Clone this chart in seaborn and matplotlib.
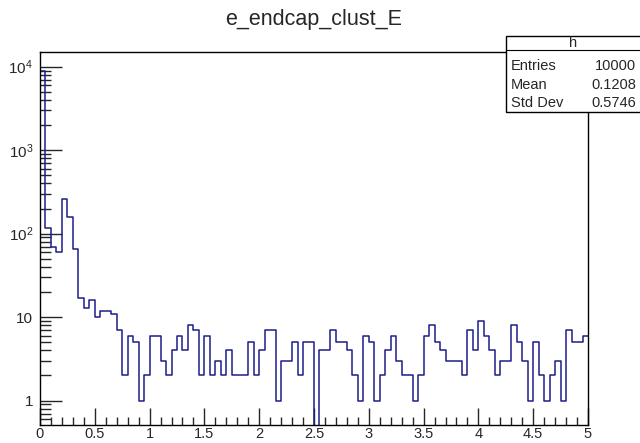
import numpy as np
import pandas as pd
import matplotlib
matplotlib.use('Agg')
import matplotlib.pyplot as plt
import matplotlib.ticker as mticker
from matplotlib.patches import Rectangle
import seaborn as sns

TITLE = 'e_endcap_clust_E'
HIST_NAME = 'h'
X_MIN = 0.0
X_MAX = 5.0
N_BINS = 100

# counts per bin (bin width 0.05)
counts = [
    8845, 117, 69, 60, 261, 157, 65, 17, 13, 16,
    10, 12, 12, 11, 7, 2, 6, 5, 1, 2,
    6, 6, 3, 2, 4, 6, 4, 8, 7, 2,
    6, 2, 3, 2, 4, 2, 2, 2, 5, 2,
    4, 7, 7, 1, 3, 3, 5, 2, 5, 5,
    0, 4, 4, 7, 5, 5, 4, 2, 1, 6,
    5, 1, 2, 4, 6, 3, 2, 2, 1, 2,
    6, 8, 5, 4, 3, 3, 3, 2, 7, 4,
    9, 6, 4, 2, 3, 3, 8, 5, 3, 1,
    5, 2, 1, 2, 3, 1, 7, 5, 5, 6,
]
stat_names = ['Entries', 'Mean', 'Std Dev']
stat_values = ['10000', '0.1208', '0.5746']
y_tick_values = [1, 10, 100, 1000, 10000]
y_tick_labels = ['1', '10', r'$10^{2}$', r'$10^{3}$', r'$10^{4}$']

sns.set_style('ticks')
plt.rcParams['font.family'] = ['Liberation Sans', 'DejaVu Sans']
plt.rcParams['mathtext.default'] = 'regular'

edges = np.linspace(X_MIN, X_MAX, N_BINS + 1)
centers = 0.5 * (edges[:-1] + edges[1:])
df = pd.DataFrame({'E': centers, 'n': counts})

fig = plt.figure(figsize=(6.4, 4.43), dpi=100)
ax = fig.add_axes([40 / 640, 1 - 425 / 443, 548 / 640, 373 / 443])

sns.histplot(data=df, x='E', weights='n', bins=N_BINS, binrange=(X_MIN, X_MAX),
             element='step', fill=False, color='#1c1c8c', linewidth=1.1, ax=ax)

ax.set_yscale('log')
ax.set_xlim(X_MIN, X_MAX)
ax.set_ylim(0.51, 15000)
ax.set_xlabel('')
ax.set_ylabel('')

# ROOT-like ticks
ax.xaxis.set_major_locator(mticker.MultipleLocator(0.5))
ax.xaxis.set_minor_locator(mticker.MultipleLocator(0.1))
ax.xaxis.set_major_formatter(mticker.FuncFormatter(lambda v, p: '%g' % v))
ax.yaxis.set_major_locator(mticker.FixedLocator(y_tick_values))
ax.yaxis.set_major_formatter(mticker.FixedFormatter(y_tick_labels))
ax.yaxis.set_minor_locator(mticker.LogLocator(base=10, subs=np.arange(2, 10)))
ax.yaxis.set_minor_formatter(mticker.NullFormatter())

ax.tick_params(axis='x', which='major', direction='in', length=12, width=1,
               labelsize=10.5, pad=1.5, top=False)
ax.tick_params(axis='x', which='minor', direction='in', length=6, width=1, top=False)
ax.tick_params(axis='y', which='major', direction='in', length=16, width=1,
               labelsize=11, pad=5, right=False)
ax.tick_params(axis='y', which='minor', direction='in', length=8, width=1, right=False)
for s in ax.spines.values():
    s.set_linewidth(1)
    s.set_color('black')

fig.text(314 / 640, 1 - 20 / 443, TITLE, ha='center', va='center', fontsize=15.5)

# stats box
bx0, bx1 = 506 / 640, 1.01
by0, by1 = 1 - 112 / 443, 1 - 36 / 443
fig.add_artist(Rectangle((bx0, by0), bx1 - bx0, by1 - by0, transform=fig.transFigure,
                         facecolor='white', edgecolor='black', linewidth=1, zorder=5))
fig.add_artist(plt.Line2D([bx0, bx1], [1 - 50 / 443] * 2, transform=fig.transFigure,
                          color='black', linewidth=0.8, zorder=6))
fig.text(573 / 640, 1 - 43 / 443, HIST_NAME, ha='center', va='center',
         fontsize=10.5, zorder=7)
row_y = [66, 85, 103]
for name, val, yy in zip(stat_names, stat_values, row_y):
    fig.text(511 / 640, 1 - yy / 443, name, ha='left', va='center', fontsize=10.5, zorder=7)
    fig.text(636 / 640, 1 - yy / 443, val, ha='right', va='center', fontsize=10.5, zorder=7)

fig.savefig('out.png', dpi=100)
